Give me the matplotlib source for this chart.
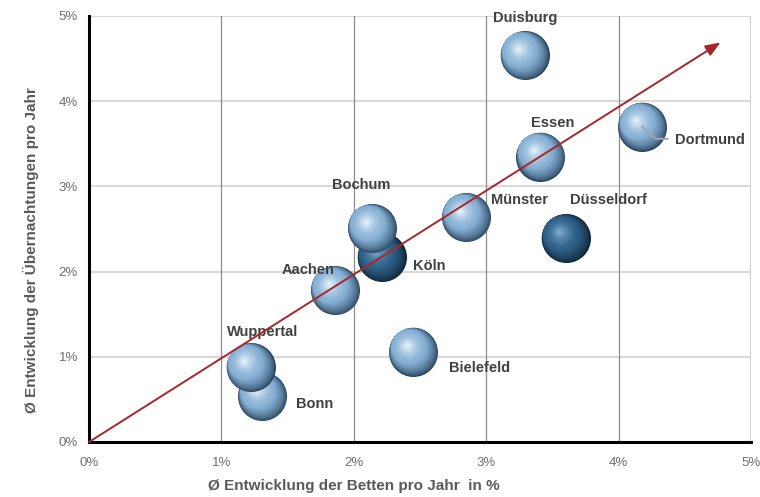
import matplotlib.pyplot as plt
import matplotlib.transforms as mtransforms
import numpy as np
from matplotlib.colors import to_rgb

plt.rcParams['font.family'] = ['Liberation Sans', 'DejaVu Sans']

# Daten (Anteile, 0.01 = 1 %)
cities = ['Köln', 'Düsseldorf', 'Bonn', 'Wuppertal', 'Aachen', 'Bochum',
          'Bielefeld', 'Münster', 'Essen', 'Duisburg', 'Dortmund']
betten = [0.0221, 0.0360, 0.0131, 0.0122, 0.0186, 0.0214,
          0.0245, 0.0285, 0.0341, 0.0329, 0.0418]
uebern = [0.0217, 0.0239, 0.0054, 0.0088, 0.0178, 0.0251,
          0.0106, 0.0264, 0.0335, 0.0454, 0.0370]
dark = ['Köln', 'Düsseldorf']
ticks = [0, 0.01, 0.02, 0.03, 0.04, 0.05]
tick_labels = ['0%', '1%', '2%', '3%', '4%', '5%']

# Beschriftungs-Versatz in Pixeln (dx, dy, ha)
label_pos = {
    'Duisburg': (1, 37, 'center'), 'Essen': (12, 34, 'center'),
    'Dortmund': (33, -13, 'left'), 'Düsseldorf': (43, 38, 'center'),
    'Münster': (25, 17, 'left'), 'Bochum': (-11, 43, 'center'),
    'Köln': (31, -9, 'left'), 'Aachen': (-27, 20, 'center'),
    'Bielefeld': (36, -16, 'left'), 'Wuppertal': (12, 35, 'center'),
    'Bonn': (34, -8, 'left'),
}

fig = plt.figure(figsize=(7.6, 4.97), dpi=100)
ax = fig.add_axes([89 / 760, 55 / 497, 662 / 760, 426 / 497])
ax.set_xlim(0, 0.05)
ax.set_ylim(0, 0.05)

# Gitter
for t in ticks[1:]:
    ax.axhline(t, color='#d9d9d9', lw=1.5, zorder=0)
for t in ticks[1:-1]:
    ax.axvline(t, color='#8c8c8c', lw=0.9, zorder=0)
ax.axvline(0.05, color='#d0d0d0', lw=1.5, zorder=0)

for s in ['top', 'right']:
    ax.spines[s].set_visible(False)
for s in ['left', 'bottom']:
    ax.spines[s].set_linewidth(2.2)
    ax.spines[s].set_color('black')
    ax.spines[s].set_zorder(1)

ax.set_xticks(ticks)
ax.set_xticklabels(tick_labels)
ax.set_yticks(ticks)
ax.set_yticklabels(tick_labels)
ax.tick_params(length=0, labelsize=9.5, labelcolor='#6e6e6e')
ax.tick_params(axis='x', pad=11)
ax.tick_params(axis='y', pad=8)

ax.set_xlabel('Ø Entwicklung der Betten pro Jahr  in %', fontsize=11,
              fontweight='bold', color='#595959')
ax.xaxis.set_label_coords(0.40, -0.088)
ax.set_ylabel('Ø Entwicklung der Übernachtungen pro Jahr', fontsize=11,
              fontweight='bold', color='#595959')
ax.yaxis.set_label_coords(-0.075, 0.45)


def sphere(x, y, edge, body, hi, z):
    R = 24.5
    n = 36
    e, b, h = np.array(to_rgb(edge)), np.array(to_rgb(body)), np.array(to_rgb(hi))
    for k in range(n):
        t = k / n
        r = R * (1 - t)
        if t < 0.3:
            d = R * t
            c = e + (b - e) * (t / 0.3) ** 0.7
        else:
            d = 0.3 * R + (t - 0.3) / 0.7 * 0.08 * R
            c = b + (h - b) * ((t - 0.3) / 0.7) ** 1.5
        d = d / np.sqrt(2)
        off = mtransforms.offset_copy(ax.transData, fig=fig,
                                      x=-d, y=d, units='dots')
        s = (2 * r * 72 / fig.dpi) ** 2
        ax.scatter([x], [y], s=s, color=c, lw=0, transform=off,
                   zorder=z, clip_on=False)


for i, (name, bx, uy) in enumerate(zip(cities, betten, uebern)):
    if name in dark:
        sphere(bx, uy, '#0f2638', '#2e5f86', '#86b4d6', 2 + i * 0.01)
    else:
        sphere(bx, uy, '#2a4660', '#86b0d4', '#eef8ff', 2 + i * 0.01)
    dx, dy, ha = label_pos[name]
    ax.annotate(name, (bx, uy), xytext=(dx, dy), textcoords='offset pixels',
                ha=ha, va='center', fontsize=10.5, fontweight='bold',
                color='#404040', zorder=5)

# Führungslinie Dortmund
i = cities.index('Dortmund')
lead = mtransforms.offset_copy(ax.transData, fig=fig, x=0, y=0, units='dots')
pts = ax.transData.transform((betten[i], uebern[i]))
lx = np.array([0, 13, 25]) + pts[0]
ly = np.array([0, -12, -12]) + pts[1]
ax.plot(lx, ly, color='#a6a6a6', lw=1.5, transform=None, zorder=4)

# Trendpfeil
ax.annotate('', xy=(0.0477, 0.0469), xytext=(0, 0),
            arrowprops=dict(arrowstyle='-|>,head_length=0.9,head_width=0.35',
                            color='#a8262b', lw=1.4, shrinkA=0, shrinkB=0),
            zorder=6, annotation_clip=False)

fig.savefig('out.png', dpi=100)
